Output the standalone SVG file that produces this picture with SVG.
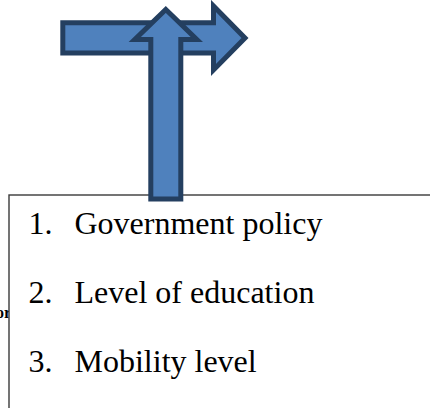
<svg xmlns="http://www.w3.org/2000/svg" width="430" height="408" viewBox="0 0 430 408">
  <style>
    .arrow { fill: #4F81BD; stroke: #243F60; stroke-width: 5; stroke-linejoin: miter; }
    .box { fill: #FFFFFF; stroke: #3A3A3A; stroke-width: 1.4; }
    .item { font-family: "Liberation Serif", "Times New Roman", serif; font-size: 32px; fill: #000000; }
    .caption { font-family: "Liberation Serif", "Times New Roman", serif; font-size: 16px; font-weight: bold; fill: #000000; }
  </style>

  <rect width="430" height="408" fill="#FFFFFF"/>

  <!-- caption text partly hidden behind the list box -->
  <text class="caption" x="11" y="318" text-anchor="end">or</text>

  <!-- list box -->
  <g id="factors-box">
    <rect class="box" x="9" y="195" width="440" height="240"/>
    <text class="item" x="28.5" y="234">1.</text>
    <text class="item" x="74.5" y="234">Government policy</text>
    <text class="item" x="28.5" y="303">2.</text>
    <text class="item" x="74.5" y="303">Level of education</text>
    <text class="item" x="28.5" y="372">3.</text>
    <text class="item" x="74.5" y="372">Mobility level</text>
  </g>

  <!-- block arrows -->
  <g id="connectors">
    <path id="arrow-right" class="arrow" d="M62.8,22.8 H213.5 V6 L245,38 L213.5,70 V53 H62.8 Z"/>
    <path id="arrow-up" class="arrow" d="M165.8,9.5 L196.8,39.5 H180.8 V199 H150.8 V39.5 H134.8 Z"/>
  </g>
</svg>
